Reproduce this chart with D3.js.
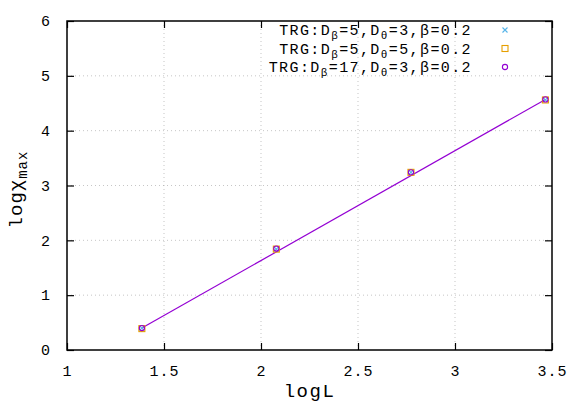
<!DOCTYPE html>
<html>
<head>
<meta charset="utf-8">
<script src="https://cdn.jsdelivr.net/npm/d3@7"></script>
<style>
body { margin: 0; background: #fff; }
text { font-family: "Liberation Mono", "DejaVu Sans Mono", monospace; fill: #000; }
</style>
</head>
<body>
<div id="chart"></div>
<script>
// Data
let logL = [1.386, 2.079, 2.773, 3.466];
let trg5x3 = [0.40, 1.84, 3.24, 4.56];
let trg5x5 = [0.39, 1.84, 3.24, 4.56];
let trg17x3 = [0.40, 1.85, 3.24, 4.57];
let fitX = [1.386, 3.466];
let fitY = [0.40, 4.57];
let xTicks = [1, 1.5, 2, 2.5, 3, 3.5];
let yTicks = [0, 1, 2, 3, 4, 5, 6];

let series = [
    { name: 'TRG:D|β|=5,D|θ|=3,β=0.2', values: trg5x3, color: '#56b4e9', shape: 'cross' },
    { name: 'TRG:D|β|=5,D|θ|=5,β=0.2', values: trg5x5, color: '#e69f00', shape: 'square' },
    { name: 'TRG:D|β|=17,D|θ|=3,β=0.2', values: trg17x3, color: '#9400d3', shape: 'circle' }
];

// Set dimensions and margins
let margin = { top: 21, right: 31, bottom: 58, left: 67 },
    width = 583 - margin.left - margin.right,
    height = 408 - margin.top - margin.bottom;

let x = d3.scaleLinear().domain([1, 3.5]).range([0, width]);
let y = d3.scaleLinear().domain([0, 6]).range([height, 0]);

let svg = d3.select('#chart')
    .append('svg')
    .attr('width', 583)
    .attr('height', 408)
    .append('g')
    .attr('transform', 'translate(' + margin.left + ',' + margin.top + ')');

// Grid
svg.append('g')
    .selectAll('line')
    .data(xTicks.slice(1, -1))
    .enter().append('line')
    .attr('x1', d => x(d)).attr('x2', d => x(d))
    .attr('y1', 0).attr('y2', height)
    .attr('stroke', '#a0a0a0').attr('stroke-width', 0.6)
    .attr('stroke-dasharray', '1,3');

svg.append('g')
    .selectAll('line')
    .data(yTicks.slice(1, -1))
    .enter().append('line')
    .attr('x1', 0).attr('x2', width)
    .attr('y1', d => y(d)).attr('y2', d => y(d))
    .attr('stroke', '#a0a0a0').attr('stroke-width', 0.6)
    .attr('stroke-dasharray', '1,3');

// Axes (ticks inward, mirrored)
svg.append('g')
    .attr('transform', 'translate(0,' + height + ')')
    .call(d3.axisBottom(x).tickValues(xTicks).tickSize(-7).tickPadding(15).tickFormat(d3.format('')))
    .call(g => g.select('.domain').remove());
svg.append('g')
    .call(d3.axisTop(x).tickValues(xTicks).tickSize(-7).tickFormat(''))
    .call(g => g.select('.domain').remove());
svg.append('g')
    .call(d3.axisLeft(y).tickValues(yTicks).tickSize(-7).tickPadding(16).tickFormat(d3.format('')))
    .call(g => g.select('.domain').remove());
svg.append('g')
    .attr('transform', 'translate(' + width + ',0)')
    .call(d3.axisRight(y).tickValues(yTicks).tickSize(-7).tickFormat(''))
    .call(g => g.select('.domain').remove());

svg.selectAll('.tick line').attr('stroke', '#000').attr('stroke-width', 1.2);
svg.selectAll('.tick text')
    .style('font-size', '15px')
    .style('letter-spacing', '1px')
    .style('font-family', '"Liberation Mono", monospace');

svg.append('rect')
    .attr('width', width).attr('height', height)
    .attr('fill', 'none').attr('stroke', '#000').attr('stroke-width', 1.5);

// Fit line
let line = d3.line()
    .x(function (d) { return x(d[0]); })
    .y(function (d) { return y(d[1]); });
svg.append('path')
    .datum(fitX.map((v, i) => [v, fitY[i]]))
    .attr('d', line)
    .attr('fill', 'none')
    .attr('stroke', '#9400d3')
    .attr('stroke-width', 1.2);

function drawSymbol(g, shape, color, cx, cy) {
    if (shape === 'cross') {
        g.append('path')
            .attr('d', 'M' + (cx - 2.5) + ',' + (cy - 2.5) + 'L' + (cx + 2.5) + ',' + (cy + 2.5) +
                'M' + (cx - 2.5) + ',' + (cy + 2.5) + 'L' + (cx + 2.5) + ',' + (cy - 2.5))
            .attr('stroke', color).attr('stroke-width', 1.1);
    } else if (shape === 'square') {
        g.append('rect')
            .attr('x', cx - 3).attr('y', cy - 3).attr('width', 6).attr('height', 6)
            .attr('fill', 'none').attr('stroke', color).attr('stroke-width', 1.1);
    } else {
        g.append('circle')
            .attr('cx', cx).attr('cy', cy).attr('r', 2.6)
            .attr('fill', 'none').attr('stroke', color).attr('stroke-width', 1.1);
    }
}

// Points
series.forEach(function (s) {
    let g = svg.append('g');
    logL.forEach(function (lx, i) {
        drawSymbol(g, s.shape, s.color, x(lx), y(s.values[i]));
    });
});

// Legend
let legend = svg.append('g');
series.forEach(function (s, i) {
    let ly = 9 + i * 18.5;
    let t = legend.append('text')
        .attr('x', 405).attr('y', ly + 5)
        .attr('text-anchor', 'end')
        .style('font-size', '15px')
        .style('letter-spacing', '1.4px');
    s.name.split('|').forEach(function (part, j) {
        if (j % 2 === 1) {
            t.append('tspan').attr('dy', 4).style('font-size', '11px').text(part);
        } else if (j > 0) {
            t.append('tspan').attr('dy', -4).text(part);
        } else {
            t.append('tspan').text(part);
        }
    });
    drawSymbol(legend, s.shape, s.color, 438, ly);
});

// Axis labels
svg.append('text')
    .attr('x', x(2.25)).attr('y', height + 47)
    .attr('text-anchor', 'middle')
    .style('font-size', '19px')
    .style('letter-spacing', '1.5px')
    .text('logL');

let yl = svg.append('text')
    .attr('transform', 'translate(-45,' + (height / 2 + 4) + ') rotate(-90)')
    .attr('text-anchor', 'middle')
    .style('font-size', '19px')
    .style('letter-spacing', '1px');
yl.append('tspan').text('logχ');
yl.append('tspan').attr('dy', 5).style('font-size', '14px').text('max');
</script>
</body>
</html>
